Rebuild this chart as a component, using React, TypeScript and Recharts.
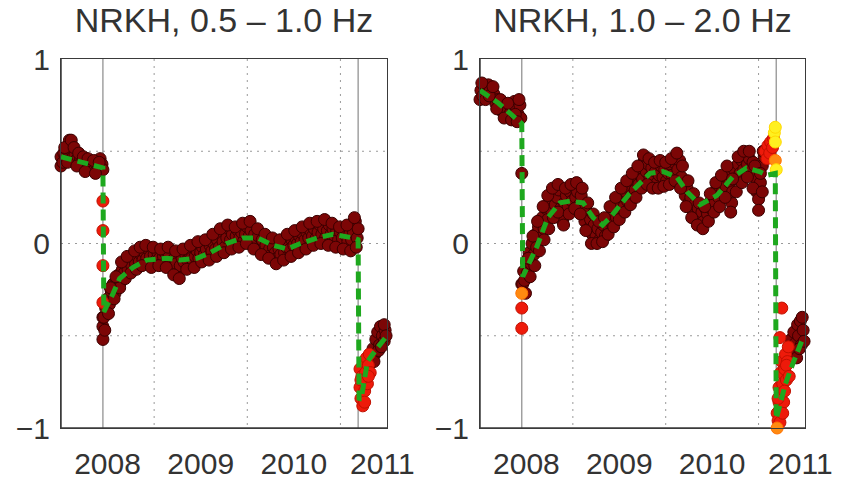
import React from 'react';
import {
  ComposedChart, XAxis, YAxis, Scatter, Line, CartesianGrid, ReferenceLine,
} from 'recharts';

type P = [number, number];

// ---------- Panel titles / ticks ----------
const titles = ['NRKH, 0.5 – 1.0 Hz', 'NRKH, 1.0 – 2.0 Hz'];
const xTicks = [2008.5, 2009.5, 2010.5, 2011.45];
const xTickLabels = ['2008', '2009', '2010', '2011'];
const yTicks = [-1, 0, 1];
const gridX = [2009, 2010, 2011];
const gridY = [-0.5, 0, 0.5];
const eventYears = [2008.45, 2011.19];
const xDomain: [number, number] = [2008, 2011.5];
const yDomain: [number, number] = [-1, 1];

// ---------- Left panel (0.5 - 1.0 Hz) ----------
const leftBand: P[] = [
  [2008.0, 0.42], [2008.0, 0.47], [2008.02, 0.44], [2008.03, 0.49], [2008.05, 0.47], [2008.06, 0.51],
  [2008.08, 0.53], [2008.09, 0.56], [2008.1, 0.52], [2008.12, 0.5], [2008.13, 0.47], [2008.15, 0.48],
  [2008.16, 0.45], [2008.18, 0.46], [2008.2, 0.43], [2008.21, 0.46], [2008.23, 0.44], [2008.25, 0.42],
  [2008.27, 0.45], [2008.28, 0.43], [2008.3, 0.41], [2008.32, 0.44], [2008.34, 0.42], [2008.36, 0.4],
  [2008.38, 0.43], [2008.4, 0.41], [2008.42, 0.46], [2008.44, 0.43], [2008.45, 0.4],
  [2008.04, 0.52], [2008.11, 0.56], [2008.14, 0.52], [2008.19, 0.49], [2008.24, 0.47], [2008.29, 0.46],
  [2008.35, 0.45], [2008.41, 0.44], [2008.07, 0.44], [2008.17, 0.42], [2008.26, 0.39], [2008.37, 0.38],
  [2008.45, -0.45], [2008.45, -0.52], [2008.45, -0.4],
  [2008.46, -0.4], [2008.47, -0.47], [2008.48, -0.35], [2008.5, -0.3], [2008.52, -0.33], [2008.54, -0.26],
  [2008.56, -0.22], [2008.58, -0.27], [2008.6, -0.2], [2008.62, -0.17], [2008.64, -0.21], [2008.66, -0.14],
  [2008.68, -0.16], [2008.7, -0.11], [2008.72, -0.14], [2008.74, -0.1], [2008.76, -0.12], [2008.78, -0.08],
  [2008.8, -0.11], [2008.82, -0.07], [2008.84, -0.1], [2008.86, -0.06], [2008.88, -0.09], [2008.9, -0.05],
  [2008.92, -0.08], [2008.94, -0.03], [2008.96, -0.07], [2008.98, -0.1], [2009.0, -0.06], [2009.02, -0.09],
  [2009.04, -0.05], [2009.06, -0.08], [2009.08, -0.11], [2009.1, -0.07], [2009.12, -0.05], [2009.14, -0.09],
  [2009.16, -0.06], [2009.18, -0.1], [2009.2, -0.13], [2009.22, -0.08], [2009.24, -0.11], [2009.26, -0.16],
  [2009.28, -0.12], [2009.3, -0.08], [2009.32, -0.1], [2009.34, -0.06], [2009.36, -0.09], [2009.38, -0.05],
  [2009.4, -0.08], [2009.42, -0.11], [2009.44, -0.07], [2009.46, -0.04], [2009.48, -0.08], [2009.5, -0.05],
  [2009.52, -0.02], [2009.54, -0.06], [2009.56, -0.03], [2009.58, -0.07], [2009.6, -0.01], [2009.62, -0.04],
  [2009.64, 0.0], [2009.66, -0.03], [2009.68, 0.02], [2009.7, -0.02], [2009.72, 0.05], [2009.74, 0.01],
  [2009.76, -0.02], [2009.78, 0.03], [2009.8, 0.08], [2009.82, 0.02], [2009.84, 0.05], [2009.86, 0.0],
  [2009.88, 0.04], [2009.9, 0.07], [2009.92, 0.03], [2009.94, 0.06], [2009.96, 0.01], [2009.98, 0.05],
  [2010.0, 0.09], [2010.02, 0.04], [2010.04, 0.07], [2010.06, 0.02], [2010.08, 0.05], [2010.1, 0.01],
  [2010.12, 0.04], [2010.14, -0.02], [2010.16, 0.02], [2010.18, -0.04], [2010.2, -0.01], [2010.22, 0.03],
  [2010.24, -0.03], [2010.26, -0.06], [2010.28, -0.02], [2010.3, -0.05], [2010.32, -0.08], [2010.34, -0.03],
  [2010.36, -0.06], [2010.38, -0.01], [2010.4, -0.05], [2010.42, -0.02], [2010.44, 0.01], [2010.46, -0.03],
  [2010.48, 0.02], [2010.5, -0.01], [2010.52, 0.03], [2010.54, 0.0], [2010.56, 0.04], [2010.58, 0.01],
  [2010.6, 0.05], [2010.62, 0.02], [2010.64, 0.06], [2010.66, 0.03], [2010.68, 0.07], [2010.7, 0.04],
  [2010.72, 0.08], [2010.74, 0.03], [2010.76, 0.06], [2010.78, 0.1], [2010.8, 0.05], [2010.82, 0.08],
  [2010.84, 0.03], [2010.86, 0.07], [2010.88, 0.1], [2010.9, 0.05], [2010.92, 0.08], [2010.94, 0.04],
  [2010.96, 0.07], [2010.98, 0.02], [2011.0, 0.06], [2011.02, 0.03], [2011.04, 0.08], [2011.06, 0.04],
  [2011.08, 0.01], [2011.1, 0.05], [2011.12, 0.02], [2011.14, 0.06], [2011.16, 0.12], [2011.18, 0.03],
  [2011.19, 0.08],
  [2008.51, -0.38], [2008.57, -0.3], [2008.63, -0.24], [2008.69, -0.19], [2008.75, -0.16], [2008.81, -0.14],
  [2008.87, -0.12], [2008.53, -0.24], [2008.59, -0.18], [2008.65, -0.1], [2008.71, -0.07], [2008.79, -0.04],
  [2008.85, -0.02], [2008.91, -0.01],
  [2008.97, -0.13], [2009.05, -0.12], [2009.13, -0.13], [2009.21, -0.17], [2009.27, -0.19], [2009.35, -0.14],
  [2009.43, -0.13], [2009.51, -0.1], [2009.59, -0.09], [2009.67, -0.07], [2009.75, -0.05], [2009.83, -0.03],
  [2009.91, -0.02], [2009.99, 0.0], [2010.07, -0.03], [2010.15, -0.06], [2010.23, -0.08], [2010.31, -0.11],
  [2010.39, -0.09], [2010.47, -0.07], [2010.55, -0.05], [2010.63, -0.03], [2010.71, -0.01], [2010.79, 0.0],
  [2010.87, -0.01], [2010.95, -0.02], [2011.03, -0.03], [2011.11, -0.04], [2011.17, -0.02],
  [2008.99, -0.02], [2009.07, -0.03], [2009.15, -0.02], [2009.23, -0.04], [2009.31, -0.03], [2009.39, -0.01],
  [2009.47, 0.01], [2009.55, 0.02], [2009.63, 0.05], [2009.71, 0.08], [2009.79, 0.1], [2009.87, 0.09],
  [2009.95, 0.11], [2010.03, 0.12], [2010.11, 0.08], [2010.19, 0.05], [2010.27, 0.03], [2010.35, 0.02],
  [2010.43, 0.05], [2010.51, 0.07], [2010.59, 0.09], [2010.67, 0.11], [2010.75, 0.12], [2010.83, 0.13],
  [2010.91, 0.11], [2010.99, 0.09], [2011.07, 0.1], [2011.15, 0.14],
  [2011.33, -0.62], [2011.35, -0.57], [2011.37, -0.6], [2011.38, -0.52], [2011.4, -0.48], [2011.42, -0.55],
  [2011.43, -0.45], [2011.45, -0.5], [2011.47, -0.53], [2011.48, -0.47], [2011.36, -0.64], [2011.41, -0.58],
  [2011.44, -0.56], [2011.47, -0.44], [2011.49, -0.5],
];
const leftRed: P[] = [
  [2008.45, 0.23], [2008.45, 0.07], [2008.45, -0.12], [2008.45, -0.32],
  [2011.21, -0.78], [2011.21, -0.68], [2011.22, -0.84], [2011.23, -0.72], [2011.24, -0.88], [2011.25, -0.64],
  [2011.26, -0.8], [2011.27, -0.7], [2011.28, -0.62], [2011.29, -0.76], [2011.3, -0.66], [2011.31, -0.6],
  [2011.32, -0.7], [2011.22, -0.74], [2011.26, -0.86], [2011.3, -0.72],
];
const leftFit: P[] = [
  [2008.0, 0.47], [2008.45, 0.41], [2008.46, -0.37], [2008.56, -0.27], [2008.63, -0.19], [2008.77, -0.13],
  [2008.92, -0.09], [2009.14, -0.08], [2009.28, -0.09], [2009.46, -0.08], [2009.6, -0.05], [2009.78, 0.0],
  [2009.95, 0.03], [2010.11, 0.03], [2010.28, -0.01], [2010.43, -0.03], [2010.57, 0.0], [2010.75, 0.03],
  [2010.92, 0.05], [2011.14, 0.03], [2011.19, 0.02], [2011.2, -0.85], [2011.23, -0.82], [2011.29, -0.64],
  [2011.39, -0.57], [2011.5, -0.5],
];

// ---------- Right panel (1.0 - 2.0 Hz) ----------
const rightBand: P[] = [
  [2008.0, 0.78], [2008.01, 0.83], [2008.03, 0.8], [2008.05, 0.85], [2008.07, 0.82], [2008.09, 0.86],
  [2008.11, 0.83], [2008.13, 0.79], [2008.15, 0.81], [2008.17, 0.76], [2008.19, 0.78], [2008.21, 0.74],
  [2008.23, 0.72], [2008.25, 0.75], [2008.27, 0.71], [2008.29, 0.73], [2008.31, 0.69], [2008.33, 0.71],
  [2008.35, 0.74], [2008.37, 0.77], [2008.39, 0.73], [2008.41, 0.7], [2008.43, 0.75], [2008.44, 0.68],
  [2008.02, 0.87], [2008.06, 0.78], [2008.1, 0.8], [2008.14, 0.85], [2008.18, 0.73], [2008.22, 0.78],
  [2008.26, 0.68], [2008.3, 0.76], [2008.34, 0.67], [2008.38, 0.7], [2008.42, 0.78], [2008.4, 0.66],
  [2008.45, 0.38], [2008.45, -0.22],
  [2008.46, -0.22], [2008.47, -0.15], [2008.48, -0.2], [2008.5, -0.1], [2008.51, -0.16], [2008.53, -0.05],
  [2008.55, -0.11], [2008.56, 0.0], [2008.58, -0.06], [2008.6, 0.05], [2008.61, -0.02], [2008.63, 0.09],
  [2008.65, 0.03], [2008.67, 0.14], [2008.69, 0.08], [2008.71, 0.19], [2008.73, 0.13], [2008.75, 0.24],
  [2008.77, 0.18], [2008.79, 0.27], [2008.81, 0.21], [2008.83, 0.25], [2008.85, 0.29], [2008.87, 0.19],
  [2008.89, 0.12], [2008.91, 0.22], [2008.93, 0.26], [2008.95, 0.2], [2008.97, 0.28], [2008.99, 0.23],
  [2009.01, 0.3], [2009.03, 0.25], [2009.05, 0.28], [2009.07, 0.21], [2009.09, 0.26], [2009.11, 0.18],
  [2009.13, 0.12], [2009.15, 0.17], [2009.17, 0.08], [2009.19, 0.13], [2009.21, 0.05], [2009.23, 0.1],
  [2009.25, 0.04], [2009.27, 0.08], [2009.29, 0.02], [2009.31, 0.06], [2009.33, 0.1], [2009.35, 0.04],
  [2009.37, 0.12], [2009.39, 0.08], [2009.41, 0.15], [2009.43, 0.1], [2009.45, 0.19], [2009.47, 0.14],
  [2009.49, 0.22], [2009.51, 0.17], [2009.53, 0.25], [2009.55, 0.2], [2009.57, 0.28], [2009.59, 0.23],
  [2009.61, 0.31], [2009.63, 0.26], [2009.65, 0.34], [2009.67, 0.29], [2009.69, 0.37], [2009.71, 0.32],
  [2009.73, 0.41], [2009.75, 0.35], [2009.77, 0.45], [2009.79, 0.39], [2009.81, 0.43], [2009.83, 0.36],
  [2009.85, 0.41], [2009.87, 0.34], [2009.89, 0.39], [2009.91, 0.33], [2009.93, 0.37], [2009.95, 0.42],
  [2009.97, 0.36], [2009.99, 0.4], [2010.01, 0.34], [2010.03, 0.38], [2010.05, 0.43], [2010.07, 0.37],
  [2010.09, 0.44], [2010.11, 0.46], [2010.13, 0.4], [2010.15, 0.45], [2010.17, 0.36], [2010.19, 0.31],
  [2010.21, 0.26], [2010.23, 0.3], [2010.25, 0.22], [2010.27, 0.25], [2010.29, 0.18], [2010.31, 0.21],
  [2010.33, 0.15], [2010.35, 0.19], [2010.37, 0.13], [2010.39, 0.17], [2010.41, 0.12], [2010.43, 0.19],
  [2010.45, 0.16], [2010.47, 0.22], [2010.49, 0.19], [2010.51, 0.26], [2010.53, 0.22], [2010.55, 0.3],
  [2010.57, 0.25], [2010.59, 0.33], [2010.61, 0.28], [2010.63, 0.36], [2010.65, 0.31], [2010.67, 0.38],
  [2010.69, 0.33], [2010.71, 0.22], [2010.72, 0.28], [2010.74, 0.4], [2010.76, 0.35], [2010.78, 0.43],
  [2010.8, 0.38], [2010.82, 0.45], [2010.84, 0.4], [2010.86, 0.48], [2010.88, 0.43], [2010.9, 0.46],
  [2010.92, 0.4], [2010.94, 0.44], [2010.96, 0.36], [2010.98, 0.28], [2011.0, 0.24], [2011.02, 0.33],
  [2011.04, 0.42], [2011.06, 0.47],
  [2008.49, -0.27], [2008.54, -0.18], [2008.59, -0.12], [2008.64, -0.04], [2008.69, 0.02], [2008.74, 0.08],
  [2008.79, 0.14], [2008.84, 0.17], [2008.9, 0.1], [2008.96, 0.16], [2009.02, 0.19], [2009.08, 0.16],
  [2009.14, 0.07], [2009.2, 0.0], [2009.26, 0.0], [2009.32, 0.01], [2009.38, 0.05], [2009.44, 0.09],
  [2009.5, 0.13], [2009.56, 0.17], [2009.62, 0.21], [2009.68, 0.25], [2009.74, 0.3], [2009.8, 0.32],
  [2009.86, 0.3], [2009.92, 0.3], [2009.98, 0.31], [2010.04, 0.32], [2010.1, 0.34], [2010.16, 0.3],
  [2010.22, 0.2], [2010.28, 0.14], [2010.34, 0.1], [2010.4, 0.08], [2010.46, 0.12], [2010.52, 0.17],
  [2010.58, 0.2], [2010.64, 0.25], [2010.7, 0.17], [2010.76, 0.28], [2010.82, 0.33], [2010.88, 0.36],
  [2010.94, 0.3], [2011.0, 0.18], [2011.04, 0.28],
  [2008.52, -0.08], [2008.57, 0.04], [2008.62, 0.12], [2008.68, 0.2], [2008.73, 0.26], [2008.78, 0.3],
  [2008.84, 0.32], [2008.92, 0.3], [2008.98, 0.32], [2009.04, 0.33], [2009.1, 0.3], [2009.16, 0.22],
  [2009.22, 0.16], [2009.28, 0.12], [2009.34, 0.14], [2009.4, 0.2], [2009.46, 0.25], [2009.52, 0.3],
  [2009.58, 0.34], [2009.64, 0.38], [2009.7, 0.42], [2009.76, 0.48], [2009.82, 0.46], [2009.88, 0.44],
  [2009.94, 0.45], [2010.0, 0.44], [2010.06, 0.46], [2010.12, 0.49], [2010.18, 0.42], [2010.24, 0.34],
  [2010.3, 0.27], [2010.36, 0.22], [2010.42, 0.2], [2010.48, 0.27], [2010.54, 0.33], [2010.6, 0.37],
  [2010.66, 0.42], [2010.72, 0.35], [2010.78, 0.47], [2010.84, 0.5], [2010.9, 0.5], [2010.96, 0.42],
  [2011.02, 0.38], [2011.05, 0.5],
  [2011.33, -0.62], [2011.35, -0.52], [2011.37, -0.58], [2011.38, -0.48], [2011.4, -0.54], [2011.42, -0.44],
  [2011.43, -0.5], [2011.45, -0.42], [2011.46, -0.55], [2011.48, -0.47], [2011.36, -0.6], [2011.41, -0.62],
  [2011.44, -0.57], [2011.47, -0.4], [2011.49, -0.53],
];
const rightRed: P[] = [
  [2008.45, -0.35], [2008.45, -0.46],
  [2011.07, 0.5], [2011.09, 0.46], [2011.1, 0.53], [2011.12, 0.49], [2011.13, 0.55], [2011.15, 0.52],
  [2011.16, 0.57],
  [2011.25, -0.35], [2011.23, -0.51],
  [2011.2, -0.92], [2011.21, -0.96], [2011.22, -0.86], [2011.22, -0.78], [2011.23, -0.9], [2011.24, -0.7],
  [2011.24, -0.82], [2011.25, -0.64], [2011.26, -0.76], [2011.27, -0.86], [2011.28, -0.68], [2011.29, -0.6],
  [2011.3, -0.74], [2011.31, -0.64], [2011.32, -0.56], [2011.21, -0.84], [2011.23, -0.97], [2011.26, -0.92],
  [2011.28, -0.8], [2011.3, -0.66], [2011.33, -0.72],
];
const rightOrange: P[] = [
  [2008.45, -0.27], [2011.18, 0.45], [2011.2, -1.0],
];
const rightYellow: P[] = [
  [2011.17, 0.6], [2011.18, 0.55], [2011.18, 0.63], [2011.19, 0.4],
];
const rightFit: P[] = [
  [2008.0, 0.83], [2008.2, 0.76], [2008.45, 0.65], [2008.46, -0.18], [2008.61, -0.02], [2008.73, 0.14],
  [2008.86, 0.22], [2008.97, 0.23], [2009.11, 0.22], [2009.22, 0.14], [2009.32, 0.1], [2009.4, 0.14],
  [2009.61, 0.27], [2009.83, 0.38], [2009.97, 0.39], [2010.12, 0.36], [2010.23, 0.28], [2010.37, 0.21],
  [2010.55, 0.26], [2010.72, 0.36], [2010.87, 0.41], [2011.01, 0.39], [2011.09, 0.37], [2011.18, 0.38],
  [2011.19, -0.95], [2011.29, -0.76], [2011.37, -0.65], [2011.48, -0.51],
];

const toObj = (arr: P[]) => arr.map(([x, y]) => ({ x, y }));

const FONT = '"Liberation Sans", Arial, Helvetica, sans-serif';
const TEXT = '#333';
const BOX = '#3a3a3a';
const BOX_W = 1.5;

const dot = (fill: string, stroke: string) => (props: any) => (
  <circle cx={props.cx} cy={props.cy} r={6} fill={fill} stroke={stroke} strokeWidth={1} />
);

interface PanelProps {
  title: string;
  band: P[];
  red: P[];
  orange: P[];
  yellow: P[];
  fit: P[];
  left: number;
  yAxisWidth: number;
  rightMargin: number;
}

const W = 426;
const H = 481;
const TOP = 59;
const XAXIS_H = 53;

function Panel({ title, band, red, orange, yellow, fit, left, yAxisWidth, rightMargin }: PanelProps) {
  const plotW = W - yAxisWidth - rightMargin;
  const plotH = H - TOP - XAXIS_H;
  return (
    <div style={{ position: 'absolute', left, top: 0, width: W, height: H }}>
      <div
        style={{
          position: 'absolute', left: yAxisWidth - 10, top: 0, width: plotW + 20, height: 40,
          lineHeight: '40px', textAlign: 'center', fontFamily: FONT, fontSize: 34, color: TEXT,
          whiteSpace: 'nowrap',
        }}
      >
        {title}
      </div>
      <div
        style={{
          position: 'absolute',
          left: yAxisWidth - BOX_W / 2,
          top: TOP - BOX_W / 2,
          width: plotW + BOX_W,
          height: plotH + BOX_W,
          outline: `${BOX_W}px solid ${BOX}`,
          outlineOffset: `-${BOX_W}px`,
          boxSizing: 'border-box',
          pointerEvents: 'none',
          zIndex: 5,
        }}
      />
      <ComposedChart width={W} height={H} margin={{ top: TOP, right: rightMargin, bottom: 0, left: 0 }}>
        <CartesianGrid
          horizontal
          vertical
          horizontalValues={gridY}
          verticalValues={gridX}
          stroke="#9a9a9a"
          strokeDasharray="2 5"
        />
        <XAxis
          dataKey="x"
          type="number"
          domain={xDomain}
          ticks={xTicks}
          tickFormatter={(v: number) => xTickLabels[xTicks.indexOf(v)]}
          height={XAXIS_H}
          tickLine={false}
          axisLine={{ stroke: BOX, strokeWidth: BOX_W }}
          tickSize={0}
          tickMargin={25}
          interval={0}
          tick={{ fontSize: 30, fill: TEXT, fontFamily: FONT }}
        />
        <YAxis
          dataKey="y"
          type="number"
          domain={yDomain}
          ticks={yTicks}
          width={yAxisWidth}
          tickLine={false}
          axisLine={{ stroke: BOX, strokeWidth: BOX_W }}
          tickSize={0}
          tickMargin={11}
          interval={0}
          tickFormatter={(v: number) => (v < 0 ? '\u2212' + Math.abs(v) : String(v))}
          tick={{ fontSize: 30, fill: TEXT, fontFamily: FONT }}
        />
        {eventYears.map((e) => (
          <ReferenceLine key={e} x={e} stroke="#8a8a8a" strokeWidth={1.2} />
        ))}
        <Scatter data={toObj(band)} shape={dot('#7c0606', '#3a0000')} isAnimationActive={false} zIndex={500} />
        <Scatter data={toObj(red)} shape={dot('#ee1a0a', '#c01000')} isAnimationActive={false} zIndex={510} />
        <Scatter data={toObj(orange)} shape={dot('#ff8a10', '#ff7000')} isAnimationActive={false} zIndex={520} />
        <Scatter data={toObj(yellow)} shape={dot('#fff020', '#ffd800')} isAnimationActive={false} zIndex={530} />
        <Line
          data={toObj(fit)}
          dataKey="y"
          type="linear"
          stroke="#1ea81e"
          strokeWidth={5}
          strokeDasharray="11 6"
          dot={false}
          activeDot={false}
          isAnimationActive={false}
          zIndex={900}
        />
      </ComposedChart>
    </div>
  );
}

export default function App() {
  return (
    <div style={{ position: 'absolute', left: 0, top: 0, width: 852, height: 481, background: '#fff' }}>
      <Panel
        title={titles[0]}
        band={leftBand}
        red={leftRed}
        orange={[]}
        yellow={[]}
        fit={leftFit}
        left={0}
        yAxisWidth={61}
        rightMargin={39}
      />
      <Panel
        title={titles[1]}
        band={rightBand}
        red={rightRed}
        orange={rightOrange}
        yellow={rightYellow}
        fit={rightFit}
        left={426}
        yAxisWidth={54}
        rightMargin={47}
      />
    </div>
  );
}
